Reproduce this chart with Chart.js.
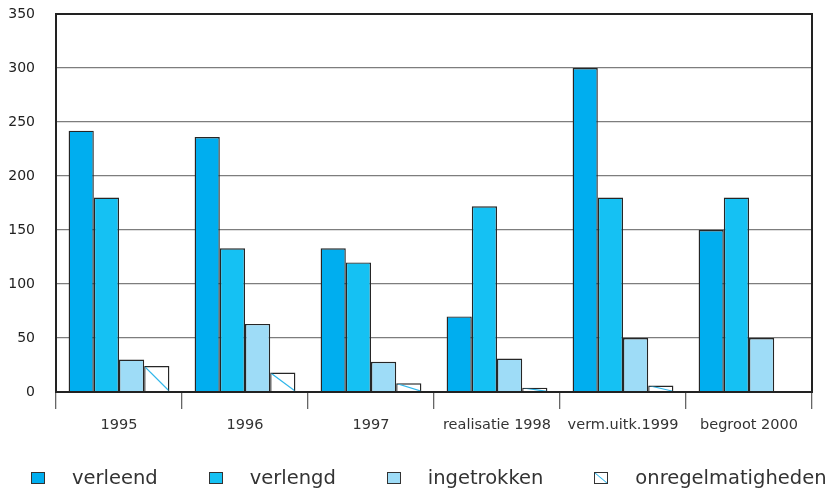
<!DOCTYPE html>
<html>
<head>
<meta charset="utf-8">
<script src="https://cdn.jsdelivr.net/npm/chart.js@4.4.1/dist/chart.umd.min.js"></script>
<style>
  html, body { margin: 0; padding: 0; background: #fff; }
  #wrap { position: relative; width: 836px; height: 488px; overflow: hidden; }
  #chart { display: block; }
  #legend {
    position: absolute; left: 31px; top: 468px;
    display: flex; white-space: nowrap;
    font-family: "DejaVu Sans", sans-serif; font-size: 19.5px; line-height: 20px; color: #333;
  }
  #legend .item { display: flex; align-items: center; margin-right: 51px; }
  #legend .box { width: 12px; height: 10px; border: 1px solid #333; margin-right: 27px; }
</style>
</head>
<body>
<div id="wrap">
  <canvas id="chart" width="836" height="488"></canvas>
  <div id="legend"></div>
</div>
<script>
const categories = ['1995', '1996', '1997', 'realisatie 1998', 'verm.uitk.1999', 'begroot 2000'];
const seriesNames = ['verleend', 'verlengd', 'ingetrokken', 'onregelmatigheden'];
const verleend = [242, 236, 133, 70, 300, 150];
const verlengd = [180, 133, 120, 172, 180, 180];
const ingetrokken = [30, 63, 28, 31, 50, 50];
const onregelmatigheden = [24, 18, 8, 4, 6, 0];
const yTicks = [0, 50, 100, 150, 200, 250, 300, 350];

const seriesColors = ['#00aeef', '#15c1f3', '#9edcf7', '#ffffff'];
const hatchColor = '#2fb6ea';
const edgeColor = '#262626';

const ctx = document.getElementById('chart').getContext('2d');

// single diagonal stroke through each "onregelmatigheden" bar
const hatchPlugin = {
  id: 'hatch',
  afterDatasetsDraw(chart) {
    const meta = chart.getDatasetMeta(3);
    const c = chart.ctx;
    meta.data.forEach((bar) => {
      const left = bar.x - bar.width / 2;
      const right = bar.x + bar.width / 2;
      const top = Math.min(bar.y, bar.base);
      const bottom = Math.max(bar.y, bar.base);
      if (bottom - top < 1) return;
      c.save();
      c.beginPath();
      c.rect(left + 1, top + 1, right - left - 2, bottom - top - 1);
      c.clip();
      c.strokeStyle = hatchColor;
      c.lineWidth = 1.2;
      c.beginPath();
      c.moveTo(left, top);
      c.lineTo(right, bottom);
      c.stroke();
      c.restore();
    });
  }
};

// dark frame round the plot area
const framePlugin = {
  id: 'frame',
  afterDraw(chart) {
    const a = chart.chartArea;
    const c = chart.ctx;
    c.save();
    c.strokeStyle = '#222';
    c.lineWidth = 2;
    c.strokeRect(a.left, a.top, a.right - a.left, a.bottom - a.top);
    c.restore();
  }
};

const seriesData = [verleend, verlengd, ingetrokken, onregelmatigheden];

const data = {
  labels: categories,
  datasets: seriesNames.map((name, i) => ({
    label: name,
    data: seriesData[i],
    backgroundColor: seriesColors[i],
    borderColor: edgeColor,
    borderWidth: 1.4,
    categoryPercentage: 0.8,
    barPercentage: 1.0
  }))
};

const tickFont = { family: '"DejaVu Sans", sans-serif', size: 14 };

const myChart = new Chart(ctx, {
  type: 'bar',
  data: data,
  options: {
    responsive: false,
    animation: false,
    layout: { padding: { left: 8, top: 14, right: 24, bottom: 56 } },
    scales: {
      x: {
        afterFit: (axis) => { axis.height = 40; },
        grid: { offset: true, drawOnChartArea: false, tickLength: 17, color: '#666', lineWidth: 1.3 },
        border: { display: true, color: '#222', width: 2 },
        ticks: { color: '#333', font: { family: tickFont.family, size: 14.5 }, padding: 8, maxRotation: 0 }
      },
      y: {
        min: 0,
        max: 350,
        afterFit: (axis) => {
          axis.width = 48;
          axis.paddingTop = 0;
          axis.paddingBottom = 0;
        },
        afterBuildTicks: (axis) => { axis.ticks = yTicks.map((v) => ({ value: v })); },
        grid: { drawTicks: false, color: '#7d7d7d', lineWidth: 1.3 },
        border: { display: true, color: '#222', width: 2 },
        ticks: { color: '#222', font: tickFont, padding: 21 }
      }
    },
    plugins: {
      legend: { display: false },
      tooltip: { enabled: false }
    }
  },
  plugins: [hatchPlugin, framePlugin]
});

// legend below the chart, built from the same series arrays
const legendEl = document.getElementById('legend');
seriesNames.forEach((name, i) => {
  const item = document.createElement('div');
  item.className = 'item';
  const box = document.createElement('span');
  box.className = 'box';
  if (i === 3) {
    box.style.background = 'linear-gradient(to top right, #fff calc(50% - 0.9px), ' + hatchColor + ' 50%, #fff calc(50% + 0.9px))';
  } else {
    box.style.background = seriesColors[i];
  }
  const label = document.createElement('span');
  label.textContent = name;
  item.appendChild(box);
  item.appendChild(label);
  legendEl.appendChild(item);
});
</script>
</body>
</html>
